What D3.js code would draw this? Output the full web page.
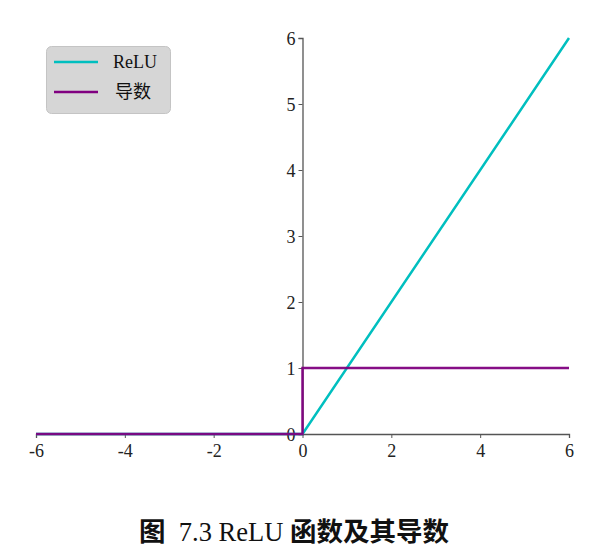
<!DOCTYPE html>
<html><head><meta charset="utf-8">
<script src="https://cdn.jsdelivr.net/npm/d3@7"></script>
<style>
body{margin:0;background:#fff;}
text{font-family:"Liberation Serif","Noto Sans CJK SC",serif;}
</style>
</head><body>
<svg id="c" width="616" height="556"></svg>
<script>
const xTicks = [-6, -4, -2, 0, 2, 4, 6];
const yTicks = [0, 1, 2, 3, 4, 5, 6];
const reluX = [-6, 0, 6];
const reluY = [0, 0, 6];
const derivX = [-6, 0, 0, 6];
const derivY = [0, 0, 1, 1];
const seriesNames = ["ReLU", "导数"];
const seriesColors = ["#00bfbf", "#800080"];
const titleParts = [["图", true], ["  7.3 ReLU ", false], ["函数及其导数", true]];

const svg = d3.select("#c");
const x = d3.scaleLinear().domain([-6, 6]).range([36, 569]);
const y = d3.scaleLinear().domain([0, 6]).range([434, 38]);

const axisColor = "#555";
const gx = svg.append("g").attr("transform", `translate(0,${y(0)})`)
  .call(d3.axisBottom(x).tickValues(xTicks).tickSize(4).tickPadding(4).tickFormat(d => String(d)));
const gy = svg.append("g").attr("transform", `translate(${x(0)},0)`)
  .call(d3.axisLeft(y).tickValues(yTicks).tickSize(4).tickPadding(3).tickFormat(d => String(d)));
[gx, gy].forEach(g => {
  g.select(".domain").attr("stroke", axisColor).attr("stroke-width", 1.3);
  g.selectAll(".tick line").attr("stroke", axisColor).attr("stroke-width", 1);
  g.selectAll(".tick text").attr("fill", "#222").attr("font-size", 18)
    .attr("font-family", "Liberation Serif, serif");
});
gx.selectAll(".tick text").attr("dy", "0.85em");
gy.selectAll(".tick text").attr("dy", "0.35em");

const line = d3.line().x(d => x(d[0])).y(d => y(d[1]));
svg.append("path").datum(reluX.map((v, i) => [v, reluY[i]]))
  .attr("d", line).attr("fill", "none").attr("stroke", seriesColors[0]).attr("stroke-width", 2.5);
svg.append("path").datum(derivX.map((v, i) => [v, derivY[i]]))
  .attr("d", line).attr("fill", "none").attr("stroke", seriesColors[1]).attr("stroke-width", 2.5)
  .attr("stroke-opacity", 0.95);

const lg = svg.append("g");
lg.append("rect").attr("x", 46.5).attr("y", 46.5).attr("width", 124).attr("height", 67)
  .attr("rx", 5).attr("fill", "#d6d6d6").attr("stroke", "#c4c4c4").attr("stroke-width", 1);
seriesNames.forEach((n, i) => {
  const yy = 62 + i * 30;
  lg.append("line").attr("x1", 54).attr("x2", 98).attr("y1", yy).attr("y2", yy)
    .attr("stroke", seriesColors[i]).attr("stroke-width", 2.5);
  lg.append("text").attr("x", 113 + (i ? 2 : 0)).attr("y", yy).attr("dy", "0.35em")
    .attr("font-size", 18).attr("fill", "#111").text(n);
});

const t = svg.append("text").attr("x", 294).attr("y", 541).attr("text-anchor", "middle")
  .attr("font-size", 26.5).attr("fill", "#111").style("white-space", "pre");
titleParts.forEach(([s, b]) => {
  t.append("tspan").attr("font-weight", b ? "bold" : "normal").text(s);
});
</script>
</body></html>
